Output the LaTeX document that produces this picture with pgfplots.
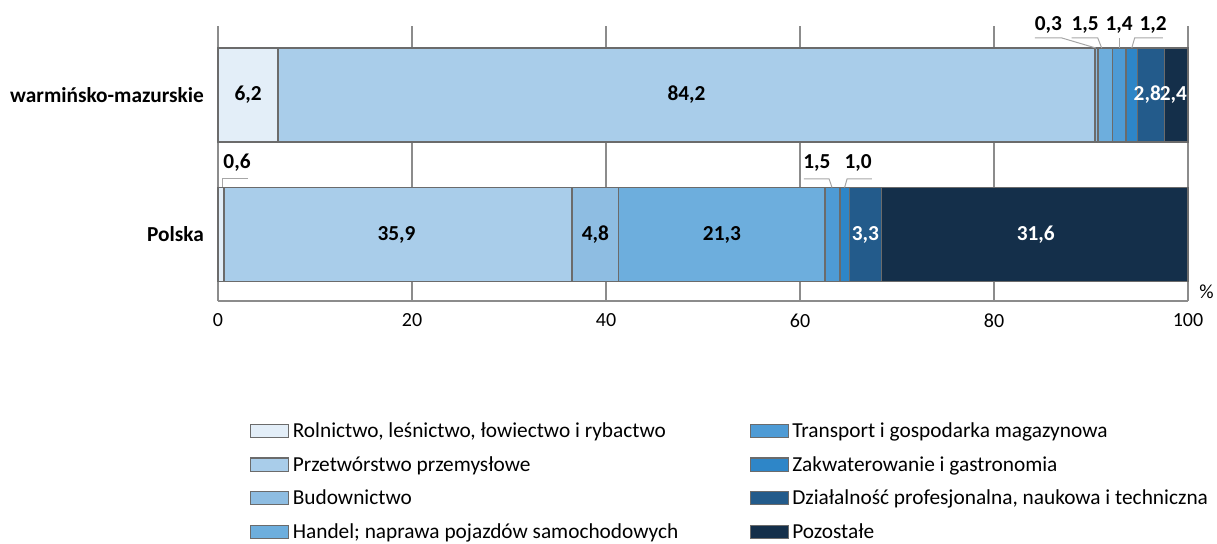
\documentclass[border=0pt]{standalone}
\usepackage{fontspec}
\setmainfont{Carlito}
\usepackage{pgfplots}
\usepackage{pgfplotstable}
\pgfplotsset{compat=1.18}
\definecolor{c1}{HTML}{E3EEF8}
\definecolor{c2}{HTML}{A9CDEA}
\definecolor{c3}{HTML}{8EBDE2}
\definecolor{c4}{HTML}{6DAEDD}
\definecolor{c5}{HTML}{4E9BD5}
\definecolor{c6}{HTML}{2E86C8}
\definecolor{c7}{HTML}{235B8B}
\definecolor{c8}{HTML}{142F4A}
\definecolor{gridgray}{HTML}{8C8C8C}
\definecolor{edgegray}{HTML}{6B6B6B}
\definecolor{leadgray}{HTML}{A6A6A6}
\pgfplotstableread{
y rol prz bud han tra zak dzi poz
0 0.6 35.9 4.8 21.3 1.5 1.0 3.3 31.6
1 6.2 84.2 0.3 1.5 1.4 1.2 2.8 2.4
}\chartdata
\pgfplotsset{boxlegend/.style={legend image code/.code={\draw[##1,draw=edgegray,line width=0.9pt] (0pt,-4.9pt) rectangle (28.5pt,4.9pt);}},
  samebox/.style={at={(163.5pt,181.5pt)}, anchor=south west,
  scale only axis, width=727.5pt, height=206.25pt,
  xmin=0, xmax=100, ymin=-0.477, ymax=1.495, clip=false}}
\newcommand{\fs}{\fontsize{15}{18}\selectfont}
\newcommand{\fl}{\fontsize{16}{19}\selectfont}
\begin{document}
\begin{tikzpicture}
\path[use as bounding box] (0,0) rectangle (912.75pt,407.25pt);
\begin{axis}[
  samebox,
  xbar stacked, bar width=0.674,
  axis x line*=bottom, axis y line*=left,
  xtick={0,20,40,60,80,100},
  ytick={0,1}, yticklabels={Polska, warmińsko-mazurskie},
  major tick length=0,
  xmajorgrids, grid style={draw=gridgray, line width=1pt},
  axis line style={draw=gridgray, line width=1pt},
  tick label style={font=\fs},
  yticklabel style={font=\bfseries\fl, xshift=-7pt},
  xticklabel style={yshift=-6pt},
  /pgf/number format/assume math mode=true,
  legend columns=2,
  legend cell align=left,
  legend style={at={(0.033,-0.429)}, anchor=north west, draw=none, fill=none,
    font=\fl, row sep=7.6pt, inner sep=0pt,
    nodes={inner sep=2.5pt},
    /tikz/every even column/.append style={column sep=51pt}},
]
\addlegendimage{boxlegend, fill=c1}
\addlegendentry{Rolnictwo, leśnictwo, łowiectwo i rybactwo}
\addlegendimage{boxlegend, fill=c5}
\addlegendentry{Transport i gospodarka magazynowa}
\addlegendimage{boxlegend, fill=c2}
\addlegendentry{Przetwórstwo przemysłowe}
\addlegendimage{boxlegend, fill=c6}
\addlegendentry{Zakwaterowanie i gastronomia}
\addlegendimage{boxlegend, fill=c3}
\addlegendentry{Budownictwo}
\addlegendimage{boxlegend, fill=c7}
\addlegendentry{Działalność profesjonalna, naukowa i techniczna}
\addlegendimage{boxlegend, fill=c4}
\addlegendentry{Handel; naprawa pojazdów samochodowych}
\addlegendimage{boxlegend, fill=c8}
\addlegendentry{Pozostałe}
\addplot[fill=c1, draw=edgegray, line width=1.1pt, forget plot] table[x=rol,y=y]{\chartdata};
\addplot[fill=c2, draw=edgegray, line width=1.1pt, forget plot] table[x=prz,y=y]{\chartdata};
\addplot[fill=c3, draw=edgegray, line width=1.1pt, forget plot] table[x=bud,y=y]{\chartdata};
\addplot[fill=c4, draw=edgegray, line width=1.1pt, forget plot] table[x=han,y=y]{\chartdata};
\addplot[fill=c5, draw=edgegray, line width=1.1pt, forget plot] table[x=tra,y=y]{\chartdata};
\addplot[fill=c6, draw=edgegray, line width=1.1pt, forget plot] table[x=zak,y=y]{\chartdata};
\addplot[fill=c7, draw=edgegray, line width=1.1pt, forget plot] table[x=dzi,y=y]{\chartdata};
\addplot[fill=c8, draw=edgegray, line width=1.1pt, forget plot] table[x=poz,y=y]{\chartdata};
\end{axis}
\begin{axis}[samebox, hide axis]
% in-bar labels
\node[font=\bfseries\fl] at (axis cs:3.1,1) {6,2};
\node[font=\bfseries\fl] at (axis cs:48.3,1) {84,2};
\node[font=\bfseries\fl, text=white] at (axis cs:95.8,1) {2,8};
\node[font=\bfseries\fl, text=white] at (axis cs:98.5,1) {2,4};
\node[font=\bfseries\fl] at (axis cs:18.4,0) {35,9};
\node[font=\bfseries\fl] at (axis cs:38.9,0) {4,8};
\node[font=\bfseries\fl] at (axis cs:51.95,0) {21,3};
\node[font=\bfseries\fl, text=white] at (axis cs:66.75,0) {3,3};
\node[font=\bfseries\fl, text=white] at (axis cs:84.3,0) {31,6};
% outside labels
\node[font=\bfseries\fl] at (axis cs:85.6,1.502) {0,3};
\node[font=\bfseries\fl] at (axis cs:89.4,1.502) {1,5};
\node[font=\bfseries\fl] at (axis cs:92.9,1.502) {1,4};
\node[font=\bfseries\fl] at (axis cs:96.4,1.502) {1,2};
\node[font=\bfseries\fl] at (axis cs:1.96,0.5125) {0,6};
\node[font=\bfseries\fl] at (axis cs:61.75,0.5125) {1,5};
\node[font=\bfseries\fl] at (axis cs:66.0,0.5125) {1,0};
\draw[leadgray, line width=0.75pt] (axis cs:84.2,1.409) -- (axis cs:87.0,1.409) -- (axis cs:90.5,1.337);
\draw[leadgray, line width=0.75pt] (axis cs:88.0,1.409) -- (axis cs:90.7,1.409) -- (axis cs:91.1,1.337);
\draw[leadgray, line width=0.75pt] (axis cs:92.9,1.409) -- (axis cs:92.9,1.337);
\draw[leadgray, line width=0.75pt] (axis cs:97.4,1.409) -- (axis cs:94.5,1.409) -- (axis cs:94.2,1.337);
\draw[leadgray, line width=0.75pt] (axis cs:3.1,0.398) -- (axis cs:0.5,0.398) -- (axis cs:0.5,0.337);
\draw[leadgray, line width=0.75pt] (axis cs:60.4,0.398) -- (axis cs:63.0,0.398) -- (axis cs:63.3,0.337);
\draw[leadgray, line width=0.75pt] (axis cs:67.4,0.398) -- (axis cs:64.85,0.398) -- (axis cs:64.6,0.337);
\node[font=\fs] at (axis cs:101.9,-0.412) {\%};
\end{axis}
\end{tikzpicture}
\end{document}
